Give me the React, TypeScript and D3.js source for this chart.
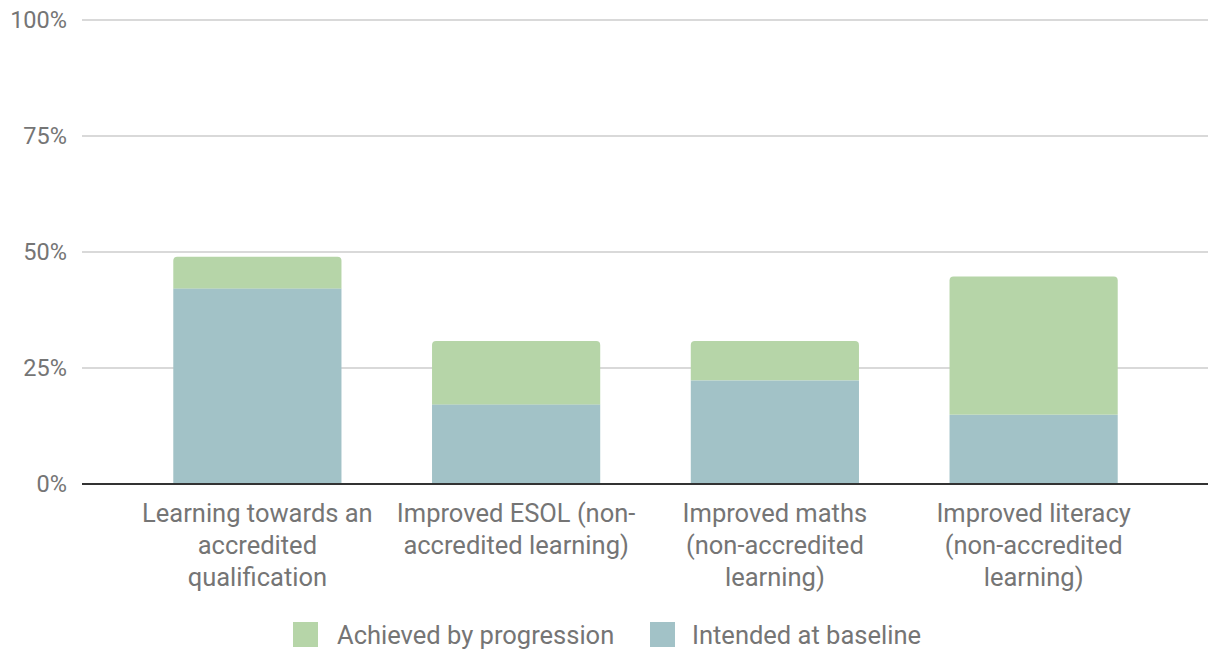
import React from "react";
import * as d3 from "d3";

const categories = [
  "Learning towards an accredited qualification",
  "Improved ESOL (non-accredited learning)",
  "Improved maths (non-accredited learning)",
  "Improved literacy (non-accredited learning)",
];
const categoryLines = [
  ["Learning towards an", "accredited", "qualification"],
  ["Improved ESOL (non-", "accredited learning)"],
  ["Improved maths", "(non-accredited", "learning)"],
  ["Improved literacy", "(non-accredited", "learning)"],
];
const intendedAtBaseline = [42.1, 17.1, 22.3, 14.9];
const achievedByProgression = [6.9, 13.7, 8.5, 29.8];
const seriesNames = ["Achieved by progression", "Intended at baseline"];
const seriesColors = ["#b6d5a8", "#a2c2c7"];
const yTicks = [0, 25, 50, 75, 100];

const W = 1208;
const H = 655;
const FONT = "Roboto, 'Noto Sans', sans-serif";
const TEXT = "#757575";

export default function App() {
  const x = d3
    .scaleBand<string>()
    .domain(categories)
    .range([128, 1163])
    .paddingInner(0.35)
    .paddingOuter(0.175);
  const y = d3.scaleLinear().domain([0, 100]).range([484, 20]);
  const plotLeft = 82;
  const plotRight = W;

  const stacked = categories.map((c, i) => {
    const base = intendedAtBaseline[i];
    const top = base + achievedByProgression[i];
    return { c, base, top };
  });

  const r = 4;
  const roundedTop = (x0: number, x1: number, yTop: number, yBot: number) => {
    const p = d3.path();
    p.moveTo(x0, yBot);
    p.lineTo(x0, yTop + r);
    p.arcTo(x0, yTop, x0 + r, yTop, r);
    p.lineTo(x1 - r, yTop);
    p.arcTo(x1, yTop, x1, yTop + r, r);
    p.lineTo(x1, yBot);
    p.closePath();
    return p.toString();
  };

  return (
    <svg
      width={W}
      height={H}
      style={{ position: "absolute", left: 0, top: 0, background: "#fff" }}
      fontFamily={FONT}
    >
      {/* gridlines and y labels */}
      {yTicks.map((t) => (
        <g key={t}>
          {t > 0 && (
            <line
              x1={plotLeft}
              x2={plotRight}
              y1={y(t)}
              y2={y(t)}
              stroke="#cccccc"
              strokeWidth={1.5}
            />
          )}
          <text
            x={67}
            y={y(t)}
            dy="0.35em"
            textAnchor="end"
            fontSize={23.5}
            fill={TEXT}
          >
            {t}%
          </text>
        </g>
      ))}

      {/* stacked bars */}
      {stacked.map((d) => {
        const x0 = x(d.c)!;
        const x1 = x0 + x.bandwidth();
        return (
          <g key={d.c}>
            <path d={roundedTop(x0, x1, y(d.top), y(d.base))} fill={seriesColors[0]} />
            <rect
              x={x0}
              width={x.bandwidth()}
              y={y(d.base)}
              height={y(0) - y(d.base)}
              fill={seriesColors[1]}
            />
          </g>
        );
      })}

      {/* baseline */}
      <line x1={plotLeft} x2={plotRight} y1={y(0)} y2={y(0)} stroke="#333" strokeWidth={2} />

      {/* category labels */}
      {categories.map((c, i) => (
        <text
          key={c}
          x={x(c)! + x.bandwidth() / 2}
          y={522}
          textAnchor="middle"
          fontSize={25.5}
          fill={TEXT}
        >
          {categoryLines[i].map((ln, j) => (
            <tspan key={j} x={x(c)! + x.bandwidth() / 2} dy={j === 0 ? 0 : 31.8}>
              {ln}
            </tspan>
          ))}
        </text>
      ))}

      {/* legend */}
      {[
        { x: 293, tx: 337 },
        { x: 650, tx: 692 },
      ].map((l, i) => (
        <g key={i}>
          <rect x={l.x} y={622} width={25} height={25} fill={seriesColors[i]} />
          <text x={l.tx} y={644} fontSize={25.5} fill={TEXT}>
            {seriesNames[i]}
          </text>
        </g>
      ))}
    </svg>
  );
}
